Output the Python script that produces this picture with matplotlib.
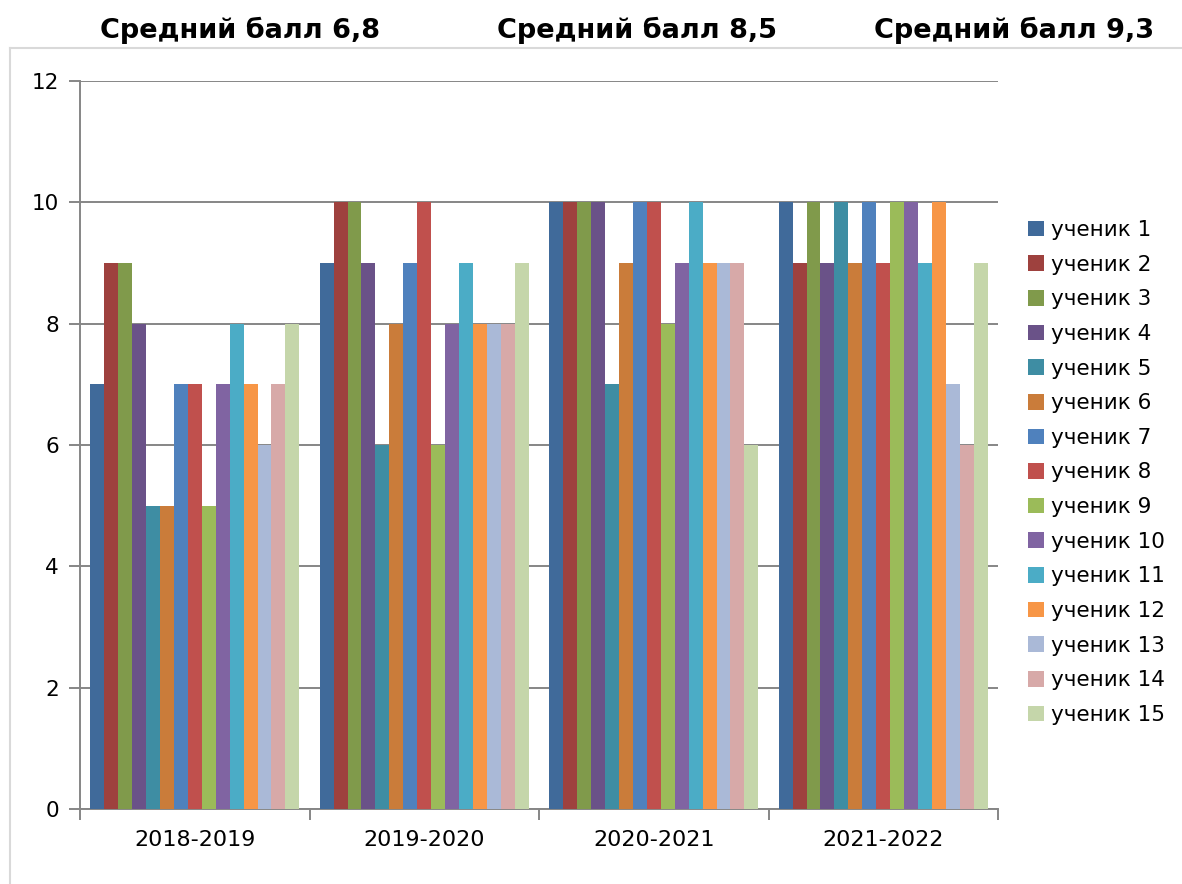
import matplotlib
matplotlib.use("Agg")
import matplotlib.pyplot as plt
from matplotlib.lines import Line2D
import numpy as np

years = ["2018-2019", "2019-2020", "2020-2021", "2021-2022"]
students = [f"ученик {i}" for i in range(1, 16)]
scores = [
    [7, 9, 10, 10],   # ученик 1
    [9, 10, 10, 9],   # ученик 2
    [9, 10, 10, 10],  # ученик 3
    [8, 9, 10, 9],    # ученик 4
    [5, 6, 7, 10],    # ученик 5
    [5, 8, 9, 9],     # ученик 6
    [7, 9, 10, 10],   # ученик 7
    [7, 10, 10, 9],   # ученик 8
    [5, 6, 8, 10],    # ученик 9
    [7, 8, 9, 10],    # ученик 10
    [8, 9, 10, 9],    # ученик 11
    [7, 8, 9, 10],    # ученик 12
    [6, 8, 9, 7],     # ученик 13
    [7, 8, 9, 6],     # ученик 14
    [8, 9, 6, 9],     # ученик 15
]
titles = ["Средний балл 6,8", "Средний балл 8,5", "Средний балл 9,3"]

colors = ["#406A9A", "#9E413E", "#809A4B", "#6A5288", "#3E8DA3",
          "#CA7C3A", "#4F81BD", "#C0504D", "#9BBB59", "#8064A2",
          "#4BACC6", "#F79646", "#AAB9D7", "#D7A9A8", "#C5D6AA"]

GRAY = "#868686"
W, H = 1182, 884
fig = plt.figure(figsize=(W / 100, H / 100), dpi=100)
ax = fig.add_axes([80 / W, 1 - 809 / H, (998 - 80) / W, (809 - 81) / H])

n = len(students)
bw = 0.0608
x = np.arange(len(years))
for i, (name, vals) in enumerate(zip(students, scores)):
    ax.bar(x + (i - (n - 1) / 2) * bw, vals, width=bw, color=colors[i],
           label=name, zorder=3, linewidth=0)

ax.set_xlim(-0.5, len(years) - 0.5)
ax.set_ylim(0, 12)
ax.set_yticks(range(0, 13, 2))
ax.yaxis.grid(True, color=GRAY, linewidth=1.4, zorder=0)
ax.set_axisbelow(True)

ax.set_xticks(np.arange(-0.5, len(years), 1.0))
ax.set_xticklabels([])
ax.set_xticks(x, minor=True)
ax.set_xticklabels(years, minor=True)
ax.tick_params(axis="x", which="major", direction="out", length=8, width=1.4, color=GRAY)
ax.tick_params(axis="x", which="minor", length=0, pad=15, labelsize=16)
ax.tick_params(axis="y", direction="out", length=8, width=1.4, color=GRAY, pad=7, labelsize=15.5)

for s in ["top", "right"]:
    ax.spines[s].set_visible(False)
for s in ["left", "bottom"]:
    ax.spines[s].set_color(GRAY)
    ax.spines[s].set_linewidth(1.4)

# chart area frame
fig.add_artist(Line2D([10 / W, 1.0], [1 - 48 / H, 1 - 48 / H], color="#D9D9D9", lw=1.5,
                      transform=fig.transFigure))
fig.add_artist(Line2D([10 / W, 10 / W], [1 - 48 / H, 0.0], color="#D9D9D9", lw=1.5,
                      transform=fig.transFigure))

for cx, t in zip([240, 637, 1014], titles):
    fig.text(cx / W, 1 - 38 / H, t, ha="center", va="baseline",
             fontsize=19.5, fontweight="bold")

fig.legend(loc="center left", bbox_to_anchor=(1028 / W, 1 - 472.5 / H),
           frameon=False, fontsize=15.5, handlelength=0.74, handleheight=0.74,
           handletextpad=0.33, labelspacing=0.68, borderpad=0, borderaxespad=0)

fig.savefig("out.png", dpi=100)
